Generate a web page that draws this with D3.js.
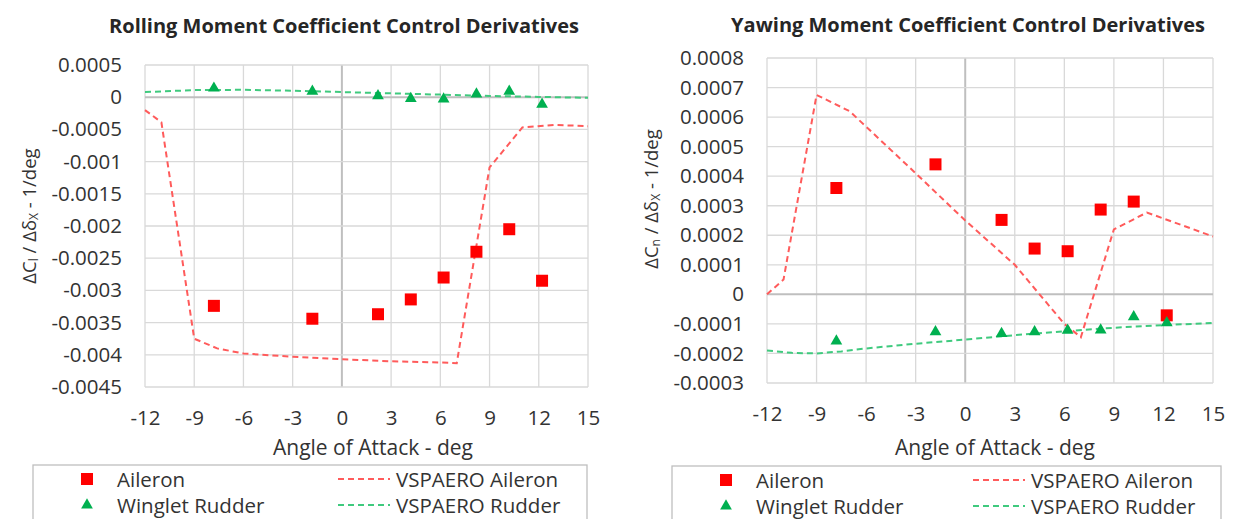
<!DOCTYPE html>
<html>
<head>
<meta charset="utf-8">
<script src="https://cdn.jsdelivr.net/npm/d3@7"></script>
<style>
  body { margin: 0; background: #fff; }
  svg { display: block; font-family: "Open Sans", sans-serif; }
</style>
</head>
<body>
<svg id="chart" width="1235" height="519"></svg>
<script>
// test points (angle of attack, deg)
const aoaTest = [-7.8, -1.8, 2.2, 4.2, 6.2, 8.2, 10.2, 12.2];

// rolling moment
const rollAileron = [-0.00324, -0.00344, -0.00337, -0.00314, -0.00280, -0.00240, -0.00205, -0.00285];
const rollRudder = [0.00014, 0.00009, 0.00002, -0.00002, -0.00003, 0.00005, 0.00009, -0.00011];
const rollVspAileronX = [-12, -11, -9, -7.6, -6, -3, 0, 3, 6, 7, 9, 11, 13, 15];
const rollVspAileronY = [-0.0002, -0.00039, -0.00375, -0.0039, -0.00398, -0.00403, -0.00407, -0.0041, -0.00412, -0.00413, -0.00109, -0.00047, -0.00043, -0.00045];
const rollVspRudderX = [-12, -9, -6, -3, 0, 3, 6, 9, 12, 15];
const rollVspRudderY = [0.00008, 0.00011, 0.000115, 0.0001, 0.00008, 0.00006, 0.00004, 0.00002, 0.000005, -0.00001];
const rollTicks = [0.0005, 0, -0.0005, -0.001, -0.0015, -0.002, -0.0025, -0.003, -0.0035, -0.004, -0.0045];

// yawing moment
const yawAileron = [0.00036, 0.00044, 0.000252, 0.000155, 0.000146, 0.000287, 0.000314, -0.000071];
const yawRudder = [-0.000158, -0.000127, -0.000133, -0.000127, -0.000122, -0.000121, -0.000076, -0.000096];
const yawVspAileronX = [-12, -11, -9, -7, -3, 0, 3, 6, 7, 9, 11, 15];
const yawVspAileronY = [0, 0.00005, 0.000675, 0.00062, 0.00041, 0.00025, 0.0001, -0.0001, -0.000145, 0.00022, 0.000277, 0.000196];
const yawVspRudderX = [-12, -10.5, -9, -7.5, -6, -3, 0, 3, 6, 9, 12, 15];
const yawVspRudderY = [-0.00019, -0.000198, -0.0002, -0.000193, -0.000183, -0.000167, -0.000153, -0.000138, -0.000125, -0.000113, -0.000104, -0.000097];
const yawTicks = [0.0008, 0.0007, 0.0006, 0.0005, 0.0004, 0.0003, 0.0002, 0.0001, 0, -0.0001, -0.0002, -0.0003];

const aoaTicks = [-12, -9, -6, -3, 0, 3, 6, 9, 12, 15];
const legendNames = ["Aileron", "Winglet Rudder", "VSPAERO Aileron", "VSPAERO Rudder"];

const red = "#ff0000", redLine = "#ff5b5b", green = "#00b050", greenLine = "#3fca7e";
const textCol = "#333333";

const svg = d3.select("#chart");
svg.append("rect").attr("width", 1235).attr("height", 519).attr("fill", "#fff");

function drawPanel(cfg) {
    const g = svg.append("g");
    const x = d3.scaleLinear().domain([-12, 15]).range(cfg.xRange);
    const y = d3.scaleLinear().domain(d3.extent(cfg.yTicks)).range(cfg.yRange);

    // grid
    g.append("g").selectAll("line").data(aoaTicks).join("line")
        .attr("x1", d => x(d)).attr("x2", d => x(d))
        .attr("y1", cfg.yRange[0]).attr("y2", cfg.yRange[1])
        .attr("stroke", d => d === 0 ? "#bfbfbf" : "#d9d9d9")
        .attr("stroke-width", d => d === 0 ? 2 : 1.3);
    g.append("g").selectAll("line").data(cfg.yTicks).join("line")
        .attr("y1", d => y(d)).attr("y2", d => y(d))
        .attr("x1", cfg.xRange[0]).attr("x2", cfg.xRange[1])
        .attr("stroke", d => d === 0 ? "#bfbfbf" : "#d9d9d9")
        .attr("stroke-width", d => d === 0 ? 2 : 1.3);

    // axes labels
    const yAxis = g.append("g").attr("transform", `translate(${cfg.xRange[0]},0)`)
        .call(d3.axisLeft(y).tickValues(cfg.yTicks).tickSize(0).tickPadding(23)
            .tickFormat(d => String(+d.toFixed(5))));
    const xAxis = g.append("g").attr("transform", `translate(0,${cfg.yRange[0]})`)
        .call(d3.axisBottom(x).tickValues(aoaTicks).tickSize(0).tickPadding(23)
            .tickFormat(d => String(d)));
    [yAxis, xAxis].forEach(a => {
        a.select(".domain").remove();
        a.selectAll("text").attr("font-size", 20.5).attr("fill", textCol)
            .attr("font-family", "Open Sans");
    });

    // VSPAERO lines
    const line = d3.line().x(d => x(d[0])).y(d => y(d[1]));
    g.append("path").datum(d3.zip(cfg.vspAileronX, cfg.vspAileronY))
        .attr("d", line).attr("fill", "none").attr("stroke", redLine)
        .attr("stroke-width", 2).attr("stroke-dasharray", "6,4");
    g.append("path").datum(d3.zip(cfg.vspRudderX, cfg.vspRudderY))
        .attr("d", line).attr("fill", "none").attr("stroke", greenLine)
        .attr("stroke-width", 2).attr("stroke-dasharray", "6,4");

    // test markers
    g.append("g").selectAll("path").data(d3.zip(aoaTest, cfg.aileron)).join("path")
        .attr("d", d3.symbol(d3.symbolSquare, 144))
        .attr("transform", d => `translate(${x(d[0])},${y(d[1])})`)
        .attr("fill", red);
    g.append("g").selectAll("path").data(d3.zip(aoaTest, cfg.rudder)).join("path")
        .attr("d", d3.symbol(d3.symbolTriangle, 60))
        .attr("transform", d => `translate(${x(d[0])},${y(d[1])})`)
        .attr("fill", green);

    // titles
    g.append("text").attr("x", cfg.titleX).attr("y", cfg.titleY)
        .attr("text-anchor", "middle").attr("dominant-baseline", "central")
        .attr("font-weight", "bold").attr("font-size", 20).attr("fill", "#262626")
        .text(cfg.title);
    g.append("text").attr("x", cfg.xTitleX).attr("y", cfg.xTitleY)
        .attr("text-anchor", "middle").attr("dominant-baseline", "central")
        .attr("font-size", 21).attr("fill", textCol)
        .text("Angle of Attack - deg");

    const yt = g.append("text")
        .attr("transform", `translate(${cfg.yTitleX},${cfg.yTitleY}) rotate(-90)`)
        .attr("text-anchor", "middle").attr("dominant-baseline", "central")
        .attr("font-size", 18.5).attr("fill", textCol);
    yt.append("tspan").text("ΔC");
    yt.append("tspan").text(cfg.sub).attr("font-size", 12).attr("dy", 5);
    yt.append("tspan").text(" / Δδ").attr("dy", -5);
    yt.append("tspan").text("X").attr("font-size", 12).attr("dy", 5);
    yt.append("tspan").text("  - 1/deg").attr("dy", -5);

    // legend
    const lg = g.append("g");
    lg.append("rect").attr("x", cfg.legX).attr("y", cfg.legY)
        .attr("width", cfg.legW).attr("height", 70)
        .attr("fill", "#fff").attr("stroke", "#bfbfbf").attr("stroke-width", 1.3);
    const rows = [cfg.legY + 14, cfg.legY + 40];
    lg.append("path").attr("d", d3.symbol(d3.symbolSquare, 144))
        .attr("transform", `translate(${cfg.legX + 54},${rows[0]})`).attr("fill", red);
    lg.append("path").attr("d", d3.symbol(d3.symbolTriangle, 60))
        .attr("transform", `translate(${cfg.legX + 54},${rows[1]})`).attr("fill", green);
    [redLine, greenLine].forEach((c, i) => {
        lg.append("line").attr("x1", cfg.legX + cfg.lineOff).attr("x2", cfg.legX + cfg.lineOff + 52)
            .attr("y1", rows[i]).attr("y2", rows[i])
            .attr("stroke", c).attr("stroke-width", 2).attr("stroke-dasharray", "6,4");
    });
    legendNames.forEach((n, i) => {
        lg.append("text")
            .attr("x", cfg.legX + (i < 2 ? 84 : cfg.lineOff + 58))
            .attr("y", rows[i % 2]).attr("dominant-baseline", "central")
            .attr("font-size", 20.5).attr("fill", textCol).text(n);
    });
}

drawPanel({
    title: "Rolling Moment Coefficient Control Derivatives", sub: "l",
    xRange: [145, 588], yRange: [387, 65], yTicks: rollTicks,
    aileron: rollAileron, rudder: rollRudder,
    vspAileronX: rollVspAileronX, vspAileronY: rollVspAileronY,
    vspRudderX: rollVspRudderX, vspRudderY: rollVspRudderY,
    titleX: 344, titleY: 25, xTitleX: 373, xTitleY: 447,
    yTitleX: 28, yTitleY: 216,
    legX: 33, legY: 465, legW: 554, lineOff: 305
});

drawPanel({
    title: "Yawing Moment Coefficient Control Derivatives", sub: "n",
    xRange: [767, 1213], yRange: [383, 58], yTicks: yawTicks,
    aileron: yawAileron, rudder: yawRudder,
    vspAileronX: yawVspAileronX, vspAileronY: yawVspAileronY,
    vspRudderX: yawVspRudderX, vspRudderY: yawVspRudderY,
    titleX: 968, titleY: 24, xTitleX: 995, xTitleY: 447,
    yTitleX: 650, yTitleY: 199,
    legX: 672, legY: 466, legW: 549, lineOff: 301
});
</script>
</body>
</html>
